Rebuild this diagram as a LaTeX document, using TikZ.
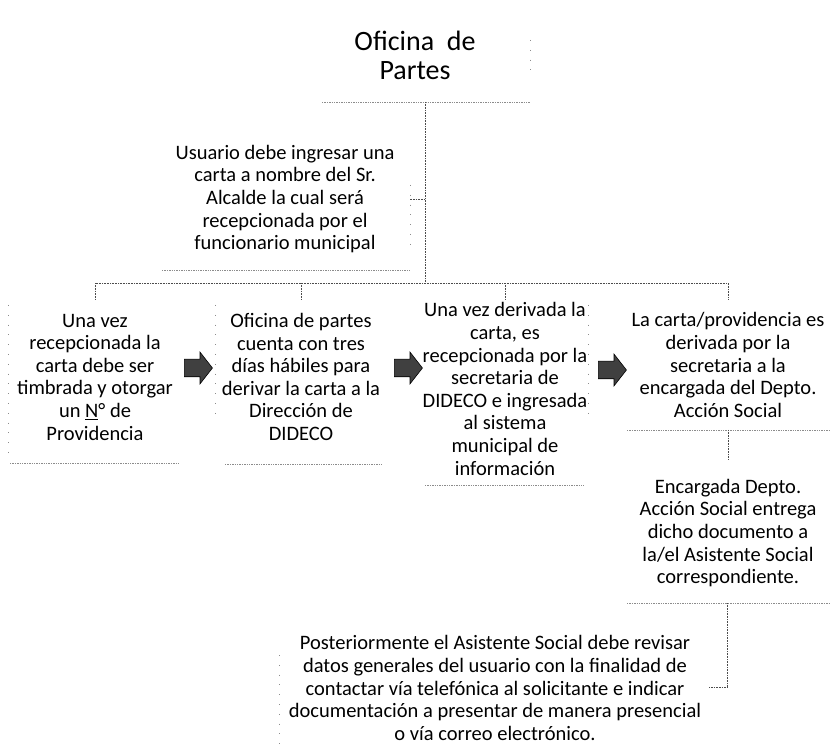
\documentclass[tikz,border=0pt]{standalone}
\usepackage{fontspec}
\setmainfont{Carlito}
\usetikzlibrary{shapes.arrows}
\tikzset{
  txt/.style={align=center, inner sep=0pt, font=\fontsize{20.5}{22.6}\selectfont},
  ttl/.style={align=center, inner sep=0pt, font=\fontsize{28}{29}\selectfont},
  conn/.style={draw=black!70, line width=0.8pt, dash pattern=on 1pt off 0.6pt},
  edgeln/.style={draw=black!45, line width=0.7pt, dash pattern=on 1.4pt off 1pt},
  sideln/.style={draw=black!45, line width=0.8pt, dash pattern=on 0.8pt off 9pt},
  barrow/.style={single arrow, fill=black!75, draw=black, line width=0.6pt,
    minimum height=28pt, minimum width=28pt, inner xsep=0pt, inner ysep=8.5pt,
    single arrow tip angle=104, single arrow head indent=0pt},
}
\begin{document}
\begin{tikzpicture}[x=1pt,y=-1pt]
\useasboundingbox (0,0) rectangle (831,751);
% text nodes
\node[ttl] (t) at (415,55) {Oficina\ \ de\\Partes};
\node[txt] (u) at (285,199) {Usuario debe ingresar una\\carta a nombre del Sr.\\Alcalde la cual será\\recepcionada por el\\funcionario municipal};
\node[txt] (a) at (95,377) {Una vez\\recepcionada la\\carta debe ser\\timbrada y otorgar\\un \underline{N}° de\\Providencia};
\node[txt] (b) at (301,377) {Oficina de partes\\cuenta con tres\\días hábiles para\\derivar la carta a la\\Dirección de\\DIDECO};
\node[txt] (c) at (505,389) {Una vez derivada la\\carta, es\\recepcionada por la\\secretaria de\\DIDECO e ingresada\\al sistema\\municipal de\\información};
\node[txt] (d) at (728,365) {La carta/providencia es\\derivada por la\\secretaria a la\\encargada del Depto.\\Acción Social};
\node[txt] (e) at (728,533) {Encargada Depto.\\Acción Social entrega\\dicho documento a\\la/el Asistente Social\\correspondiente.};
\node[txt] (f) at (495,688) {Posteriormente el Asistente Social debe revisar\\datos generales del usuario con la finalidad de\\contactar vía telefónica al solicitante e indicar\\documentación a presentar de manera presencial\\o vía correo electrónico.};
% block arrows
\node[barrow] (ar1) at (195,368) {};
\node[barrow] (ar2) at (405,368) {};
\node[barrow] (ar3) at (609,370) {};
% box frame corners
\coordinate (tL) at (322,102); \coordinate (tR) at (530,102);
\coordinate (uL) at (162,270); \coordinate (uR) at (410,270);
\coordinate (aL) at (10,463);  \coordinate (aR) at (180,463);
\coordinate (bL) at (225,464); \coordinate (bR) at (382,464);
\coordinate (cL) at (425,485); \coordinate (cR) at (584,485);
\coordinate (dL) at (627,430); \coordinate (dR) at (829,430);
\coordinate (eL) at (627,603); \coordinate (eR) at (829,603);
% bottom edges
\draw[edgeln] (tL) -- (tR);
\draw[edgeln] (uL) -- (uR);
\draw[edgeln] (aL) -- (aR);
\draw[edgeln] (bL) -- (bR);
\draw[edgeln] (cL) -- (cR);
\draw[edgeln] (dL) -- (dR);
\draw[edgeln] (eL) -- (eR);
% faint side edges
\draw[sideln] (8,305) -- (8,460);
\draw[sideln] (215,305) -- (215,420);
\draw[sideln] (588,305) -- (588,420);
\draw[sideln] (410,185) -- (410,250);
\draw[sideln] (279,655) -- (279,751);
\draw[sideln] (530,40) -- (530,70);
% connectors
\coordinate (hub) at (425,283);
\coordinate (tb) at (425,102);
\coordinate (ut) at (410,199);
\coordinate (at) at (95,300);
\coordinate (bt) at (301,300);
\coordinate (ct) at (505,300);
\coordinate (dt) at (728,300);
\coordinate (db) at (728,430);
\coordinate (et) at (728,460);
\coordinate (eb) at (727,603);
\coordinate (fr) at (709,687);
\draw[conn] (tb) -- (hub);
\draw[conn] (tb |- ut) -- (ut);
\draw[conn] (at) |- (hub) -| (dt);
\draw[conn] (bt) -- (bt |- hub);
\draw[conn] (ct) -- (ct |- hub);
\draw[conn] (db) -- (et);
\draw[conn] (eb) |- (fr);
\end{tikzpicture}
\end{document}
